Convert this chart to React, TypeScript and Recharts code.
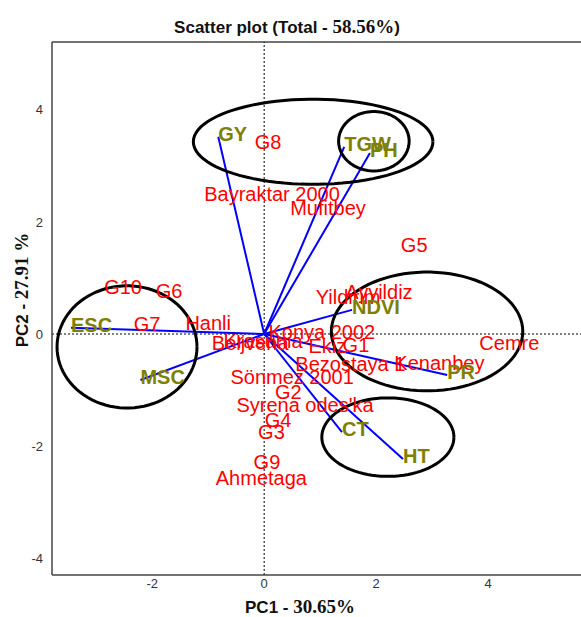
import React from 'react';
import { ScatterChart, Scatter, XAxis, YAxis, ReferenceLine } from 'recharts';

const genotypeNames = ['G8', 'Bayraktar 2000', 'Mufitbey', 'G5', 'G10', 'G6', 'G7', 'Hanli', 'Yildirim', 'Ayyildiz', 'Konya 2002', 'Ekiz', 'G1', 'Bezostaya 1', 'Kenanbey', 'Cemre', 'Beljvena', 'Krasunia', 'Sönmez 2001', 'G2', "Syrena odes'ka", 'G4', 'G3', 'G9', 'Ahmetaga'];
const genotypePC1 = [0.07, 0.14, 1.14, 2.68, -2.52, -1.70, -2.09, -1.0, 1.50, 2.05, 1.03, 1.13, 1.64, 1.54, 3.13, 4.38, -0.25, -0.02, 0.5, 0.43, 0.73, 0.25, 0.13, 0.05, -0.05];
const genotypePC2 = [3.43, 2.5, 2.25, 1.59, 0.84, 0.77, 0.18, 0.2, 0.66, 0.75, 0.04, -0.21, -0.2, -0.54, -0.52, -0.16, -0.16, -0.13, -0.77, -1.04, -1.27, -1.54, -1.75, -2.29, -2.57];

const traitNames = ['GY', 'TGW', 'PH', 'NDVI', 'ESC', 'MSC', 'PR', 'CT', 'HT'];
const traitPC1 = [-0.82, 1.43, 1.89, 1.57, -3.45, -2.21, 3.27, 1.39, 2.48];
const traitPC2 = [3.52, 3.34, 3.23, 0.43, 0.11, -0.82, -0.73, -1.75, -2.23];

const ellipseCX = [0.875, 1.96, -2.45, 2.91, 2.21];
const ellipseCY = [3.43, 3.44, -0.23, 0.045, -1.84];
const ellipseRX = [2.14, 0.63, 1.25, 1.71, 1.18];
const ellipseRY = [0.76, 0.53, 1.09, 1.06, 0.70];

const xTicks = [-2, 0, 2, 4];
const yTicks = [-4, -2, 0, 2, 4];
const xDomain = [-3.79, 5.66];
const yDomain = [-4.30, 5.21];

const genotypes = genotypeNames.map((name, i) => ({ name, x: genotypePC1[i], y: genotypePC2[i] }));
const traits = traitNames.map((name, i) => ({ name, x: traitPC1[i], y: traitPC2[i] }));

const ellipseOutline = (i: number) => {
  const pts: { x: number; y: number }[] = [];
  const n = 90;
  for (let k = 0; k <= n; k++) {
    const a = (2 * Math.PI * k) / n;
    pts.push({ x: ellipseCX[i] + ellipseRX[i] * Math.cos(a), y: ellipseCY[i] + ellipseRY[i] * Math.sin(a) });
  }
  return pts;
};

const SANS = 'Liberation Sans, Arial, sans-serif';
const SERIF = 'Liberation Serif, Times New Roman, serif';

const GenotypeLabel = (p: any) => (
  <text x={p.cx} y={p.cy} textAnchor="middle" dominantBaseline="central" fill="#FF0000" fontSize={20} fontFamily={SANS}>
    {p.payload.name}
  </text>
);

const TraitLabel = (p: any) => (
  <text x={p.cx} y={p.cy - 3} textAnchor="start" dominantBaseline="central" fill="#808000" fontSize={20} fontWeight="bold" fontFamily={SANS}>
    {p.payload.name}
  </text>
);

const Empty = () => <g />;

export default function App() {
  return (
    <div style={{ position: 'absolute', left: 0, top: 0, width: 581, height: 617, background: '#fff' }}>
      <ScatterChart width={581} height={617} margin={{ top: 42, right: 0, bottom: 0, left: 0 }}>
        <XAxis
          type="number"
          dataKey="x"
          domain={xDomain}
          allowDataOverflow
          ticks={xTicks}
          tickLine={false}
          tickSize={2}
          tickMargin={2}
          height={42}
          stroke="#444"
          strokeWidth={1.5}
          tick={{ fill: '#333', fontSize: 13, fontFamily: SANS }}
        />
        <YAxis
          type="number"
          dataKey="y"
          domain={yDomain}
          allowDataOverflow
          ticks={yTicks}
          tickLine={false}
          tickSize={6}
          tickMargin={3}
          width={52}
          stroke="#444"
          strokeWidth={1.5}
          tick={{ fill: '#333', fontSize: 13, fontFamily: SANS }}
        />
        <ReferenceLine y={yDomain[1]} stroke="#444" strokeWidth={1.5} />
        <ReferenceLine x={0} stroke="#000" strokeDasharray="2 2" strokeWidth={1} />
        <ReferenceLine y={0} stroke="#000" strokeDasharray="2 2" strokeWidth={1} />
        {ellipseCX.map((_, i) => (
          <Scatter
            key={'e' + i}
            data={ellipseOutline(i)}
            line={{ stroke: '#000', strokeWidth: 3 }}
            lineType="joint"
            shape={Empty}
            isAnimationActive={false}
          />
        ))}
        {traits.map((t) => (
          <ReferenceLine
            key={'a' + t.name}
            segment={[{ x: 0, y: 0 }, { x: t.x, y: t.y }]}
            stroke="#0000FF"
            strokeWidth={2}
          />
        ))}
        <Scatter data={genotypes} shape={GenotypeLabel} isAnimationActive={false} />
        <Scatter data={traits} shape={TraitLabel} isAnimationActive={false} />
      </ScatterChart>
      <svg width={581} height={617} style={{ position: 'absolute', left: 0, top: 0, pointerEvents: 'none' }}>
        <text x={287} y={33} textAnchor="middle" fill="#111" fontWeight="bold">
          <tspan fontFamily={SANS} fontSize={17}>Scatter plot (Total - </tspan>
          <tspan fontFamily={SERIF} fontSize={19}>58.56%</tspan>
          <tspan fontFamily={SANS} fontSize={17}>)</tspan>
        </text>
        <text x={300} y={613} textAnchor="middle" fill="#111" fontWeight="bold">
          <tspan fontFamily={SANS} fontSize={17}>PC1 - </tspan>
          <tspan fontFamily={SERIF} fontSize={19}>30.65%</tspan>
        </text>
        <text x={0} y={0} transform="translate(28,290) rotate(-90)" textAnchor="middle" fill="#111" fontWeight="bold">
          <tspan fontFamily={SANS} fontSize={17}>PC2 - </tspan>
          <tspan fontFamily={SERIF} fontSize={19}>27.91 %</tspan>
        </text>
      </svg>
    </div>
  );
}
